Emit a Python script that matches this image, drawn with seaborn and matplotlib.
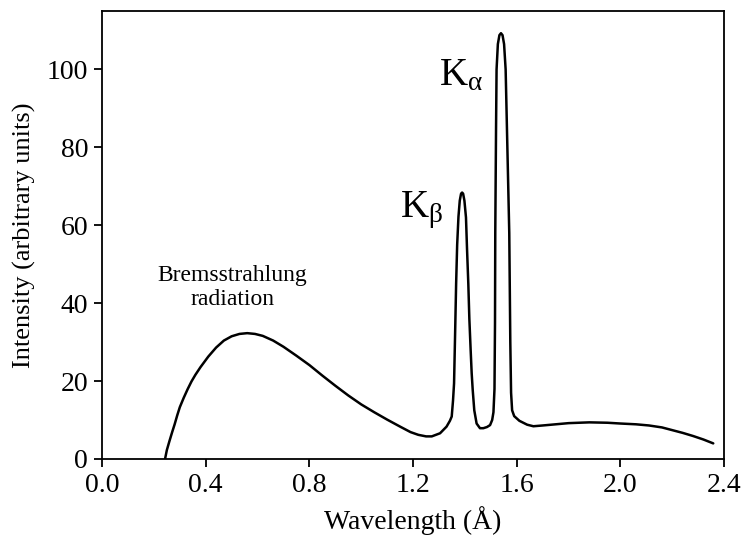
import matplotlib
matplotlib.use("Agg")
import matplotlib.pyplot as plt
import seaborn as sns
import pandas as pd

# Wavelength (Å) and intensity
wavelength = [0.243, 0.25, 0.26, 0.27, 0.28, 0.29, 0.30, 0.315, 0.33, 0.345, 0.36, 0.38, 0.41,
              0.44, 0.47, 0.50, 0.53, 0.56,
              0.59, 0.62, 0.66, 0.70, 0.75, 0.80, 0.85, 0.90, 0.95, 1.00, 1.05, 1.10, 1.15,
              1.19, 1.22, 1.25, 1.272, 1.304, 1.329, 1.342, 1.349, 1.354, 1.358, 1.362, 1.366,
              1.370, 1.375, 1.380, 1.385, 1.389, 1.393, 1.398, 1.404, 1.408, 1.413, 1.417,
              1.422, 1.426, 1.430, 1.436, 1.445, 1.458, 1.471, 1.485, 1.497, 1.505, 1.510,
              1.514, 1.516, 1.517, 1.520, 1.522, 1.527, 1.533, 1.539, 1.545, 1.551, 1.557,
              1.562, 1.571, 1.575, 1.578, 1.582, 1.590, 1.61, 1.64, 1.664, 1.70, 1.75, 1.80,
              1.88, 1.95, 2.00, 2.06, 2.11, 2.16, 2.20, 2.24, 2.28, 2.32, 2.358]
intensity = [0.0, 2.3, 4.6, 6.8, 8.9, 11.2, 13.3, 15.7, 17.9, 19.9, 21.6, 23.6, 26.3,
             28.6, 30.4, 31.5, 32.1, 32.3,
             32.1, 31.6, 30.4, 28.8, 26.5, 24.1, 21.4, 18.8, 16.3, 14.0, 12.0, 10.1, 8.3,
             6.9, 6.2, 5.8, 5.8, 6.6, 8.3, 9.8, 10.9, 15.0, 19.4, 32.0, 45.0,
             55.0, 62.2, 66.3, 68.1, 68.4, 68.1, 66.3, 62.0, 54.0, 45.0, 36.0,
             28.0, 22.0, 17.7, 12.5, 9.1, 7.9, 7.9, 8.2, 8.7, 10.0, 12.0,
             18.0, 35.0, 58.0, 85.0, 100.0, 106.5, 108.8, 109.3, 108.8, 106.5, 100.0,
             85.0, 58.0, 30.0, 17.0, 12.5, 11.0, 9.8, 8.8, 8.4, 8.6, 8.9, 9.2,
             9.4, 9.3, 9.1, 8.9, 8.6, 8.1, 7.4, 6.7, 5.9, 5.0, 4.0]

x_ticks = [0.0, 0.4, 0.8, 1.2, 1.6, 2.0, 2.4]
x_tick_labels = ["0.0", "0.4", "0.8", "1.2", "1.6", "2.0", "2.4"]
y_ticks = [0, 20, 40, 60, 80, 100]
y_tick_labels = ["0", "20", "40", "60", "80", "100"]

df = pd.DataFrame({"wavelength": wavelength, "intensity": intensity})

sns.set_theme(style="ticks")
plt.rcParams["font.family"] = ["Liberation Serif", "DejaVu Serif"]
plt.rcParams["mathtext.fontset"] = "custom"
plt.rcParams["mathtext.rm"] = "Liberation Serif"
plt.rcParams["mathtext.it"] = "Liberation Serif"

fig = plt.figure(figsize=(7.45, 5.37), dpi=100)
ax = fig.add_axes([0.137, 0.1453, 0.835, 0.8342])

sns.lineplot(data=df, x="wavelength", y="intensity", sort=False, color="black",
             linewidth=1.8, ax=ax)

ax.set_xlim(0, 2.4)
ax.set_ylim(0, 115)
ax.set_xticks(x_ticks)
ax.set_xticklabels(x_tick_labels)
ax.set_yticks(y_ticks)
ax.set_yticklabels(y_tick_labels)
ax.tick_params(direction="out", length=6, width=1.3, labelsize=20, colors="black", pad=4)
for s in ax.spines.values():
    s.set_visible(True)
    s.set_linewidth(1.3)
    s.set_color("black")

ax.set_xlabel("Wavelength (Å)", fontsize=20, color="black", labelpad=6)
ax.set_ylabel("Intensity (arbitrary units)", fontsize=19, color="black", labelpad=8)

ax.text(0.502, 44, "Bremsstrahlung\nradiation", ha="center", va="center",
        fontsize=17, linespacing=1.15, color="black")
ax.text(1.470, 96, r"$\mathrm{K}_{\mathrm{α}}$", ha="right", va="baseline", fontsize=28, color="black")
ax.text(1.316, 62, r"$\mathrm{K}_{\mathrm{β}}$", ha="right", va="baseline", fontsize=28, color="black")

fig.savefig("out.png", dpi=100)
